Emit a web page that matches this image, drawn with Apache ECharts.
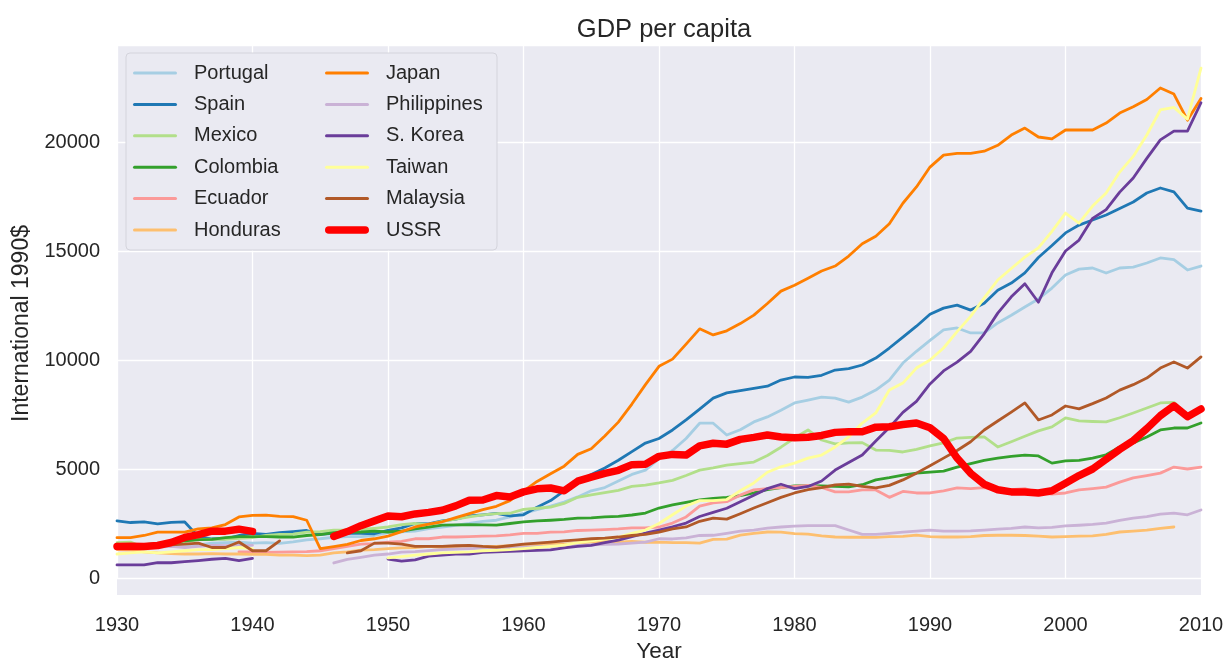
<!DOCTYPE html>
<html>
<head>
<meta charset="utf-8">
<title>GDP per capita</title>
<script src="https://cdn.jsdelivr.net/npm/echarts@6/dist/echarts.min.js"></script>
<style>
  html, body { margin: 0; padding: 0; background: #fff; }
  #chart { width: 1231px; height: 659px; }
</style>
</head>
<body>
<div id="chart"></div>
<script>
// years 1930 .. 2010, one value per year (null = no data)
const years = [];
for (let y = 1930; y <= 2010; y++) years.push(y);

const yTicks = [0, 5000, 10000, 15000, 20000];
const xTicks = [1930, 1940, 1950, 1960, 1970, 1980, 1990, 2000, 2010];

const countries = ['Portugal', 'Spain', 'Mexico', 'Colombia', 'Ecuador', 'Honduras',
  'Japan', 'Philippines', 'S. Korea', 'Taiwan', 'Malaysia', 'USSR'];

const portugal = [
  1550, 1500, 1520, 1580, 1600, 1560, 1520, 1600, 1620, 1640,
  1600, 1620, 1590, 1660, 1750, 1800, 1870, 1900, 1900, 1950,
  2080, 2120, 2150, 2260, 2340, 2420, 2500, 2600, 2650, 2800,
  2960, 3140, 3300, 3480, 3720, 4000, 4150, 4450, 4750, 4950,
  5470, 5850, 6400, 7100, 7100, 6560, 6800, 7160, 7390, 7700,
  8030, 8160, 8300, 8250, 8070, 8300, 8620, 9080, 9860, 10400,
  10900, 11380, 11470, 11240, 11240, 11700, 12050, 12430, 12800, 13300,
  13900, 14170, 14220, 13990, 14220, 14260, 14450, 14680, 14600, 14130,
  14310];
const spain = [
  2620, 2545, 2570, 2480, 2550, 2570, 1900, 1800, 1800, 1950,
  2050, 2000, 2080, 2130, 2180, 2000, 2050, 2060, 2050, 2030,
  2190, 2300, 2500, 2480, 2620, 2700, 2850, 2900, 2960, 2850,
  2900, 3250, 3550, 4000, 4400, 4750, 5050, 5400, 5800, 6190,
  6400, 6790, 7250, 7750, 8250, 8490, 8600, 8700, 8800, 9080,
  9220, 9200, 9300, 9540, 9600, 9770, 10090, 10550, 11050, 11550,
  12100, 12380, 12520, 12290, 12600, 13200, 13530, 14000, 14700, 15250,
  15830, 16190, 16420, 16650, 16950, 17250, 17660, 17890, 17710, 16970,
  16830];
const mexico = [
  1620, 1650, 1400, 1520, 1580, 1670, 1760, 1780, 1770, 1820,
  1850, 1950, 2000, 2010, 2100, 2130, 2200, 2200, 2230, 2280,
  2340, 2450, 2500, 2450, 2600, 2700, 2800, 2900, 2950, 2970,
  3150, 3200, 3250, 3420, 3700, 3810, 3920, 4020, 4200, 4260,
  4360, 4480, 4700, 4950, 5050, 5180, 5250, 5320, 5620, 6000,
  6420, 6790, 6330, 6150, 6200, 6210, 5870, 5850, 5780, 5900,
  6060, 6200, 6420, 6450, 6470, 6010, 6250, 6500, 6750, 6930,
  7340, 7210, 7180, 7160, 7350, 7570, 7800, 8030, 8060, 7450,
  7750];
const colombia = [
  1500, 1470, 1530, 1590, 1660, 1700, 1760, 1770, 1850, 1900,
  1900, 1900, 1880, 1880, 1950, 1990, 2080, 2100, 2110, 2150,
  2110, 2150, 2250, 2330, 2430, 2440, 2450, 2440, 2430, 2500,
  2570, 2620, 2650, 2690, 2750, 2760, 2800, 2830, 2890, 2980,
  3210, 3350, 3470, 3580, 3650, 3700, 3780, 3900, 4050, 4150,
  4220, 4240, 4220, 4200, 4180, 4280, 4500, 4600, 4720, 4810,
  4860, 4900, 5090, 5250, 5400, 5500, 5580, 5640, 5600, 5270,
  5370, 5400, 5500, 5650, 6010, 6200, 6470, 6790, 6880, 6880,
  7110];
const ecuador = [
  null, null, null, null, null, null, null, null, null, 1200,
  1200, 1180, 1190, 1200, 1210, 1250, 1350, 1450, 1550, 1580,
  1650, 1680, 1800, 1800, 1880, 1880, 1900, 1920, 1930, 1980,
  2050, 2050, 2100, 2120, 2180, 2200, 2220, 2250, 2300, 2300,
  2340, 2520, 2800, 3300, 3450, 3500, 3800, 4040, 4100, 4150,
  4200, 4250, 4150, 3950, 3950, 4040, 4040, 3700, 3970, 3900,
  3900, 4000, 4130, 4100, 4150, 4040, 4050, 4100, 3900, 3850,
  3900, 4040, 4100, 4170, 4400, 4590, 4700, 4810, 5090, 5000,
  5090];
const honduras = [
  1300, 1280, 1200, 1150, 1120, 1100, 1100, 1120, 1100, 1100,
  1080, 1080, 1050, 1050, 1030, 1050, 1150, 1200, 1280, 1300,
  1350, 1380, 1400, 1450, 1400, 1400, 1420, 1450, 1450, 1480,
  1500, 1500, 1550, 1550, 1600, 1650, 1680, 1650, 1680, 1640,
  1650, 1620, 1620, 1600, 1770, 1780, 1970, 2050, 2110, 2100,
  2040, 2010, 1930, 1880, 1870, 1870, 1860, 1900, 1910, 1970,
  1900, 1880, 1880, 1900, 1950, 1960, 1960, 1950, 1920, 1880,
  1900, 1920, 1930, 2000, 2110, 2150, 2200, 2280, 2340, null,
  null];
const japan = [
  1850, 1850, 1950, 2100, 2100, 2100, 2250, 2300, 2450, 2800,
  2870, 2880, 2830, 2820, 2650, 1350, 1440, 1540, 1720, 1800,
  1920, 2130, 2340, 2470, 2580, 2770, 2950, 3140, 3290, 3550,
  3990, 4430, 4780, 5130, 5670, 5930, 6510, 7150, 7980, 8870,
  9710, 10040, 10730, 11430, 11150, 11340, 11670, 12060, 12590, 13160,
  13430, 13750, 14080, 14310, 14770, 15330, 15680, 16250, 17190, 17940,
  18850, 19400, 19480, 19480, 19580, 19850, 20320, 20640, 20230, 20140,
  20550, 20550, 20550, 20870, 21330, 21620, 21950, 22480, 22200, 21000,
  22000];
const philippines = [
  1400, 1400, 1380, 1420, 1450, 1400, 1450, 1500, 1480, 1500,
  1500, null, null, null, null, null, 690, 850, 950, 1050,
  1100, 1190, 1210, 1260, 1300, 1330, 1350, 1370, 1390, 1400,
  1420, 1440, 1460, 1470, 1500, 1520, 1540, 1560, 1600, 1650,
  1800, 1790, 1840, 1950, 1960, 2050, 2150, 2200, 2290, 2340,
  2380, 2400, 2400, 2400, 2200, 2000, 2000, 2050, 2100, 2150,
  2200, 2150, 2150, 2160, 2200, 2240, 2280, 2340, 2300, 2320,
  2390, 2420, 2460, 2520, 2640, 2750, 2820, 2930, 2980, 2900,
  3120];
const sKorea = [
  600, 600, 600, 700, 700, 750, 800, 860, 900, 800,
  900, null, null, null, null, null, null, null, null, null,
  870, 770, 830, 1000, 1050, 1100, 1100, 1180, 1200, 1220,
  1250, 1270, 1290, 1380, 1450, 1500, 1620, 1740, 1900, 2060,
  2200, 2350, 2520, 2820, 3010, 3200, 3500, 3800, 4100, 4300,
  4100, 4200, 4450, 4950, 5300, 5640, 6280, 6900, 7600, 8100,
  8900, 9500, 9900, 10400, 11200, 12150, 12900, 13500, 12650, 14000,
  15000, 15500, 16500, 16900, 17700, 18350, 19250, 20100, 20500, 20500,
  21800];
const taiwan = [
  1100, 1150, 1200, 1150, 1200, 1250, 1300, 1300, 1350, 1400,
  1350, null, null, null, null, null, null, null, null, null,
  920, 980, 1050, 1100, 1150, 1180, 1200, 1250, 1270, 1300,
  1350, 1400, 1450, 1510, 1620, 1700, 1780, 1880, 2050, 2200,
  2500, 2900, 3300, 3550, 3550, 3600, 4000, 4360, 4850, 5100,
  5270, 5500, 5640, 6010, 6470, 7110, 7570, 8620, 8940, 9630,
  10000, 10550, 11300, 12000, 12850, 13670, 14200, 14720, 15140, 15900,
  16740, 16280, 17060, 17660, 18620, 19340, 20320, 21470, 21590, 21050,
  23390];
const malaysia = [
  1550, 1500, 1450, 1450, 1520, 1550, 1600, 1400, 1400, 1650,
  1250, 1250, 1700, null, null, null, null, 1150, 1250, 1600,
  1600, 1550, 1450, 1450, 1450, 1480, 1500, 1450, 1420, 1480,
  1550, 1600, 1650, 1700, 1750, 1800, 1830, 1880, 1950, 2000,
  2100, 2250, 2340, 2600, 2750, 2700, 2950, 3210, 3450, 3700,
  3900, 4050, 4150, 4270, 4310, 4200, 4130, 4250, 4500, 4810,
  5150, 5500, 5850, 6250, 6790, 7200, 7610, 8030, 7250, 7480,
  7890, 7760, 8000, 8260, 8620, 8870, 9170, 9630, 9910, 9630,
  10140];
const ussr = [
  1450, 1460, 1440, 1490, 1630, 1860, 1990, 2150, 2150, 2240,
  2140, null, null, null, null, null, 1910, 2130, 2400, 2620,
  2840, 2810, 2940, 3010, 3110, 3310, 3570, 3580, 3780, 3720,
  3950, 4090, 4130, 4000, 4440, 4630, 4800, 4940, 5200, 5220,
  5580, 5670, 5640, 6060, 6180, 6140, 6360, 6450, 6560, 6470,
  6430, 6460, 6540, 6680, 6710, 6710, 6920, 6940, 7040, 7110,
  6890, 6400, 5500, 4800, 4300, 4050, 3950, 3950, 3900, 4000,
  4350, 4700, 5000, 5450, 5900, 6300, 6850, 7450, 7900, 7400,
  7750];

const values = [portugal, spain, mexico, colombia, ecuador, honduras,
  japan, philippines, sKorea, taiwan, malaysia, ussr];

// matplotlib "Paired" colours + red for USSR
const colors = ['#a6cee3', '#1f78b4', '#b2df8a', '#33a02c', '#fb9a99', '#fdbf6f',
  '#ff7f00', '#cab2d6', '#6a3d9a', '#ffff99', '#b15928', '#ff0000'];

const font = 'Liberation Sans, Arial, sans-serif';
const textColor = '#262626';

// legend marks: thin bar, and a thick rounded bar for USSR
const thinIcon = 'path://M1.5,0 L42.5,0 A1.5,1.5 0 0 1 42.5,3 L1.5,3 A1.5,1.5 0 0 1 1.5,0 Z';
const thickIcon = 'path://M4,0 L42,0 A4,4 0 0 1 42,8 L4,8 A4,4 0 0 1 4,0 Z';

const chart = echarts.init(document.getElementById('chart'));

const series = countries.map((name, i) => ({
  name: name,
  type: 'line',
  data: years.map((y, j) => [y, values[i][j]]),
  showSymbol: false,
  symbol: 'none',
  connectNulls: false,
  animation: false,
  color: colors[i],
  lineStyle: {
    color: colors[i],
    width: name === 'USSR' ? 7.5 : 2.8,
    cap: 'round',
    join: 'round'
  },
  emphasis: { disabled: true }
}));

const legendItems = countries.map(name => ({
  name: name,
  icon: name === 'USSR' ? thickIcon : thinIcon
}));

const legendBase = {
  orient: 'vertical',
  top: 63,
  padding: 0,
  itemWidth: 44,
  itemHeight: 14,
  itemGap: 11.4,
  symbolKeepAspect: true,
  selectedMode: false,
  textStyle: {
    fontFamily: font,
    fontSize: 20,
    lineHeight: 20,
    color: textColor,
    padding: [0, 0, 0, 12]
  }
};

chart.setOption({
  animation: false,
  textStyle: { fontFamily: font },
  title: {
    text: 'GDP per capita',
    left: 659,
    top: 12,
    textAlign: 'center',
    textStyle: { fontFamily: font, fontSize: 25.5, fontWeight: 'normal', color: textColor }
  },
  grid: {
    left: 117,
    right: 30,
    top: 45,
    bottom: 81,
    outerBoundsMode: 'none',
    containLabel: false,
    show: true,
    backgroundColor: '#eaeaf2',
    borderWidth: 0
  },
  graphic: {
    elements: [
      // strip of plot background below 0
      { type: 'rect', z: -10, shape: { x: 117, y: 578, width: 1084, height: 17 },
        style: { fill: '#eaeaf2' } },
      // legend frame
      { type: 'rect', z: 1, shape: { x: 126, y: 53, width: 371, height: 197, r: 4 },
        style: { fill: '#eaeaf2', stroke: '#d4d4dc', lineWidth: 1 } }
    ]
  },
  legend: [
    Object.assign({}, legendBase, { left: 133, data: legendItems.slice(0, 6) }),
    Object.assign({}, legendBase, { left: 325, data: legendItems.slice(6) })
  ],
  xAxis: {
    type: 'value',
    min: xTicks[0],
    max: xTicks[xTicks.length - 1],
    interval: 10,
    name: 'Year',
    nameLocation: 'middle',
    nameGap: 60,
    nameTextStyle: { fontFamily: font, fontSize: 22.5, color: textColor },
    axisLine: { show: false },
    axisTick: { show: false },
    axisLabel: {
      margin: 37,
      fontFamily: font,
      fontSize: 20,
      color: textColor,
      formatter: v => (xTicks.indexOf(v) >= 0 ? String(v) : '')
    },
    splitLine: { show: true, lineStyle: { color: '#ffffff', width: 1.3 } }
  },
  yAxis: {
    type: 'value',
    min: yTicks[0],
    max: 24450,
    interval: 5000,
    name: 'International 1990$',
    nameLocation: 'middle',
    nameGap: 84,
    nameTextStyle: {
      fontFamily: font,
      fontSize: 23,
      color: textColor,
      padding: [0, 24, 0, 0]
    },
    axisLine: { show: false },
    axisTick: { show: false },
    axisLabel: {
      margin: 17,
      fontFamily: font,
      fontSize: 20,
      color: textColor,
      formatter: v => (yTicks.indexOf(v) >= 0 ? String(v) : '')
    },
    splitLine: { show: true, lineStyle: { color: '#ffffff', width: 1.3 } }
  },
  series: series
});
</script>
</body>
</html>
